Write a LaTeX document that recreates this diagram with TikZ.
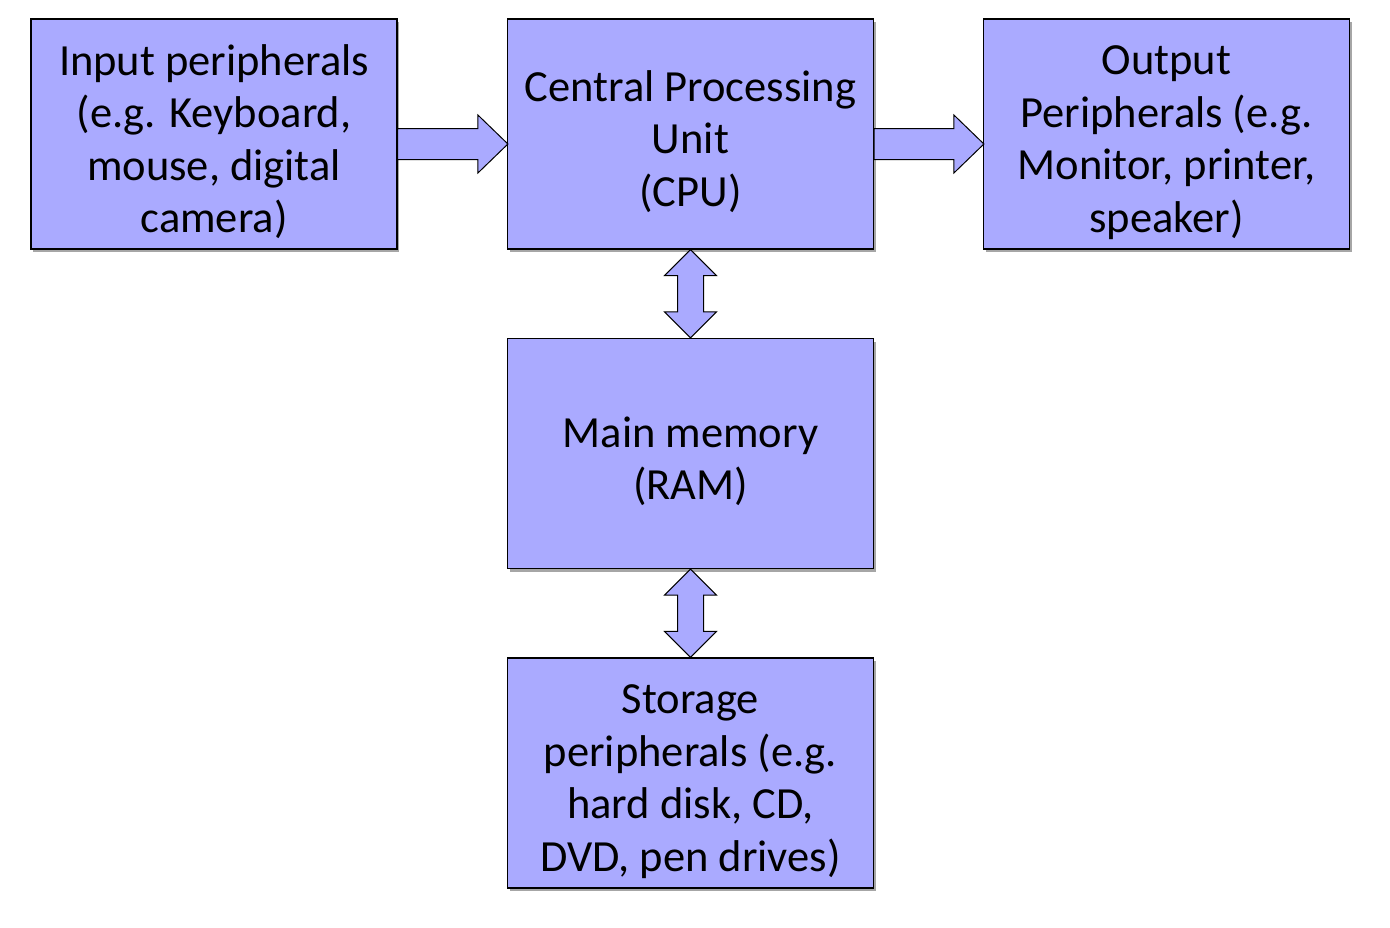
\documentclass[tikz,border=0pt]{standalone}
\usepackage{fontspec}
\setmainfont{Carlito}
\usetikzlibrary{calc,shadows}
\definecolor{boxfill}{RGB}{170,170,255}
\newcommand\topstrut{\rule{0pt}{46pt}}
\tikzset{
  blk/.style={draw=black, line width=1.2pt, fill=boxfill, minimum width=366pt, minimum height=230pt,
    align=center, inner sep=0pt, font=\fontsize{44.5}{52.5}\selectfont,
    drop shadow={shadow xshift=2pt, shadow yshift=-3pt, opacity=0.35, fill=black}},
  arr/.style={draw=black, line width=1pt, fill=boxfill, line join=miter}
}
\begin{document}
\begin{tikzpicture}[x=1pt,y=-1pt]
\useasboundingbox (0,0) rectangle (1390,927);
\node[blk] (in)  at (214,134) {\topstrut Input peripherals\\(e.g. Keyboard,\\mouse, digital\\camera)};
\node[blk] (cpu) at (690.5,134) {\topstrut Central Processing\\Unit\\(CPU)};
\node[blk] (out) at (1166.5,134) {\topstrut Output\\Peripherals (e.g.\\Monitor, printer,\\speaker)};
\node[blk] (ram) at (690.5,453.5) {\topstrut Main memory\\(RAM)};
\node[blk] (sto) at (690.5,773) {\topstrut Storage\\peripherals (e.g.\\hard disk, CD,\\DVD, pen drives)};
% horizontal arrows
\draw[arr] ($(in.east)+(0,-5.5)$) -- ($(cpu.west)+(-29,-5.5)$) -- ($(cpu.west)+(-29,-19)$)
  -- ($(cpu.west)+(1,10)$) -- ($(cpu.west)+(-29,39)$) -- ($(cpu.west)+(-29,25.5)$)
  -- ($(in.east)+(0,25.5)$) -- cycle;
\draw[arr] ($(cpu.east)+(0,-5.5)$) -- ($(out.west)+(-29,-5.5)$) -- ($(out.west)+(-29,-19)$)
  -- ($(out.west)+(1,10)$) -- ($(out.west)+(-29,39)$) -- ($(out.west)+(-29,25.5)$)
  -- ($(cpu.east)+(0,25.5)$) -- cycle;
% vertical double arrows
\draw[arr] (cpu.south) -- ($(cpu.south)+(26,26)$) -- ($(cpu.south)+(13,26)$)
  -- ($(ram.north)+(13,-26)$) -- ($(ram.north)+(26,-26)$) -- (ram.north)
  -- ($(ram.north)+(-26,-26)$) -- ($(ram.north)+(-13,-26)$)
  -- ($(cpu.south)+(-13,26)$) -- ($(cpu.south)+(-26,26)$) -- cycle;
\draw[arr] (ram.south) -- ($(ram.south)+(26,26)$) -- ($(ram.south)+(13,26)$)
  -- ($(sto.north)+(13,-26)$) -- ($(sto.north)+(26,-26)$) -- (sto.north)
  -- ($(sto.north)+(-26,-26)$) -- ($(sto.north)+(-13,-26)$)
  -- ($(ram.south)+(-13,26)$) -- ($(ram.south)+(-26,26)$) -- cycle;
\end{tikzpicture}
\end{document}
